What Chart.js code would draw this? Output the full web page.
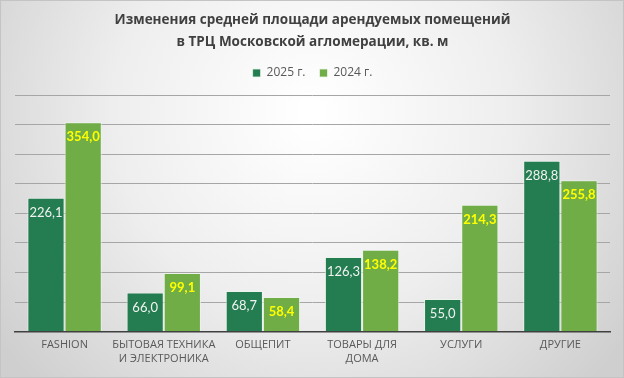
<!DOCTYPE html>
<html><head><meta charset="utf-8">
<script src="https://cdn.jsdelivr.net/npm/chart.js@4/dist/chart.umd.min.js"></script>
<style>html,body{margin:0;padding:0;background:#fff}#wrap{width:624px;height:378px}</style>
</head><body><div id="wrap"><canvas id="c" width="624" height="378"></canvas></div>
<script>
const categories = [['FASHION'], ['БЫТОВАЯ ТЕХНИКА', 'И ЭЛЕКТРОНИКА'], ['ОБЩЕПИТ'], ['ТОВАРЫ ДЛЯ', 'ДОМА'], ['УСЛУГИ'], ['ДРУГИЕ']];
const seriesNames = ['2025 г.', '2024 г.'];
const values2025 = [226.1, 66.0, 68.7, 126.3, 55.0, 288.8];
const values2024 = [354.0, 99.1, 58.4, 138.2, 214.3, 255.8];
const titleLines = ['Изменения средней площади арендуемых помещений', 'в ТРЦ Московской агломерации, кв. м'];

const bgPlugin = {
  id: 'bg',
  afterInit(chart) {
    const lg = chart.legend;
    if (lg && !lg._patched) {
      const orig = lg.fit.bind(lg);
      lg.fit = function () { orig(); this.height += 6; };
      lg._patched = true;
    }
  },
  beforeDraw(chart) {
    const ctx = chart.ctx, w = chart.width, h = chart.height;
    ctx.save();
    const g = ctx.createRadialGradient(w * 0.5, h * 0.3, 10, w * 0.5, h * 0.3, w * 0.62);
    g.addColorStop(0, '#ffffff');
    g.addColorStop(0.5, '#eeeeee');
    g.addColorStop(1, '#cfcfcf');
    ctx.fillStyle = g;
    ctx.fillRect(0, 0, w, h);
    ctx.strokeStyle = '#c4c4c4';
    ctx.lineWidth = 1;
    ctx.strokeRect(0.5, 0.5, w - 1, h - 1);
    ctx.restore();
  }
};

const labelPlugin = {
  id: 'vlabels',
  afterDatasetsDraw(chart) {
    const ctx = chart.ctx;
    ctx.save();
    ctx.textAlign = 'center';
    ctx.textBaseline = 'middle';
    chart.data.datasets.forEach((ds, i) => {
      const meta = chart.getDatasetMeta(i);
      meta.data.forEach((bar, j) => {
        const v = ds.data[j];
        ctx.font = (i === 1 ? 'bold ' : '') + '13px Lato, sans-serif';
        ctx.fillStyle = i === 1 ? '#ffff00' : '#f2f2f2';
        ctx.fillText(v.toFixed(1).replace('.', ','), bar.x, bar.y + 15);
      });
    });
    ctx.restore();
  }
};

new Chart(document.getElementById('c'), {
  type: 'bar',
  data: {
    labels: categories,
    datasets: [
      { label: seriesNames[0], data: values2025, backgroundColor: '#237d50', borderColor: 'rgba(235,245,235,0.8)', borderWidth: 1, borderSkipped: 'bottom' },
      { label: seriesNames[1], data: values2024, backgroundColor: '#70ad47', borderColor: 'rgba(235,245,235,0.8)', borderWidth: 1, borderSkipped: 'bottom' }
    ]
  },
  options: {
    responsive: false,
    animation: false,
    layout: { padding: { left: 15, right: 14, top: 0, bottom: 6 } },
    datasets: { bar: { categoryPercentage: 0.75, barPercentage: 1.0 } },
    plugins: {
      title: {
        display: true,
        text: titleLines,
        color: '#404040',
        font: { family: '"Open Sans", sans-serif', size: 13.5, weight: 'bold', lineHeight: 1.63 },
        padding: { top: 9, bottom: 0 }
      },
      legend: {
        display: true,
        labels: {
          color: '#595959',
          font: { family: '"Open Sans", sans-serif', size: 12 },
          boxWidth: 8, boxHeight: 8, padding: 14
        }
      },
      tooltip: { enabled: false }
    },
    scales: {
      x: {
        grid: { display: false, drawTicks: false },
        border: { display: true, color: '#404040', width: 1.5 },
        ticks: { color: '#595959', font: { family: '"Open Sans", sans-serif', size: 11 }, padding: 7, maxRotation: 0, autoSkip: false }
      },
      y: {
        min: 0, max: 400,
        ticks: { display: false, stepSize: 50 },
        grid: { color: '#a6a6a6', lineWidth: 1, drawTicks: false },
        border: { display: false },
        afterFit(s) { s.width = 0; }
      }
    }
  },
  plugins: [bgPlugin, labelPlugin]
});
</script></body></html>
